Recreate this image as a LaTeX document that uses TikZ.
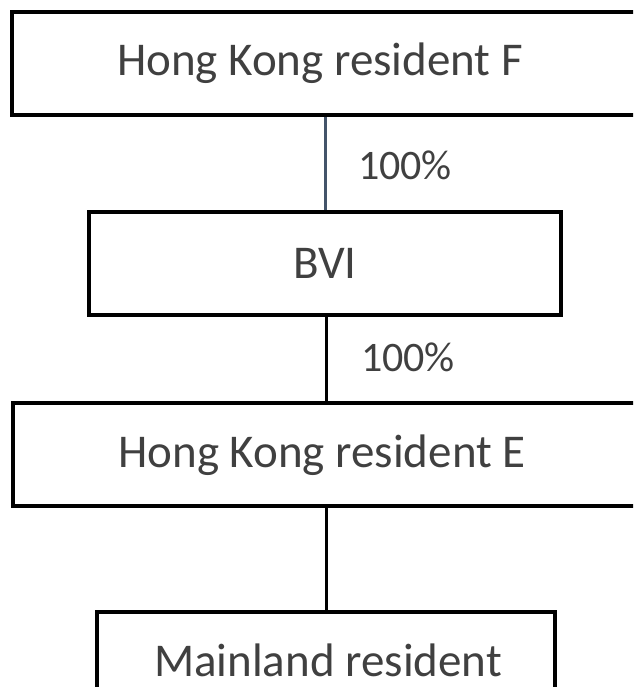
\documentclass[tikz,border=0pt]{standalone}
\usepackage{fontspec}
\setmainfont{Carlito}
\definecolor{txt}{HTML}{404040}
\definecolor{slate}{HTML}{44546A}
\begin{document}
\begin{tikzpicture}[x=1pt,y=-1pt,
  entity/.style={draw=black, line width=4pt, inner sep=0pt, text=txt,
    font=\fontsize{47}{56}\selectfont},
  share/.style={text=txt, font=\fontsize{42}{50}\selectfont, inner sep=0pt},
  link/.style={line width=3pt}]
\useasboundingbox (0,0) rectangle (633,687);
\clip (0,0) rectangle (633,687);
% ownership chain, top to bottom
\node[entity, minimum width=626pt, minimum height=103pt] (f) at (325,63.5) {};
\node[text=txt, font=\fontsize{47}{56}\selectfont] (ft) at (320,63) {Hong Kong resident F};
\node[entity, minimum width=472pt, minimum height=103pt] (bvi) at (325,263.5) {BVI};
\node[entity, minimum width=625pt, minimum height=103pt] (e) at (325.5,454.5) {};
\node[text=txt, font=\fontsize{47}{56}\selectfont] (et) at (322,455) {Hong Kong resident E};
\node[entity, minimum width=458pt, minimum height=103pt] (m) at (326,663.5) {};
\node[text=txt, font=\fontsize{47}{56}\selectfont] (mt) at (328,660) {Mainland resident};
% connectors
\draw[link, draw=slate] (f.south -| 325,0) -- (bvi.north -| 325,0);
\draw[link] (bvi.south -| 326,0) -- (e.north -| 326,0);
\draw[link] (e.south -| 326,0) -- (m.north -| 326,0);
% share labels
\node[share] (p1) at (405,165) {100\%};
\node[share] (p2) at (408,357) {100\%};
\end{tikzpicture}
\end{document}
